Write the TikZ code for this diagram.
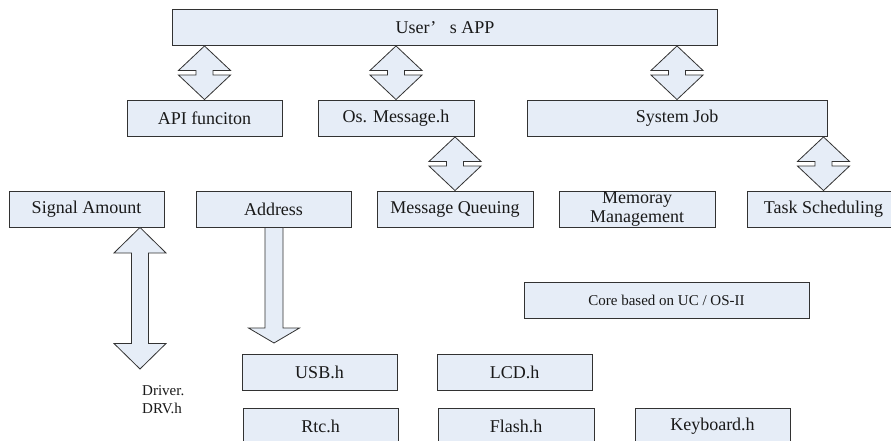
\documentclass[tikz,border=0pt]{standalone}
\usepackage{fontspec}
\setmainfont{Liberation Serif}
\usetikzlibrary{calc}

\definecolor{boxfill}{RGB}{230,237,247}
\definecolor{boxline}{RGB}{50,50,50}
\definecolor{ink}{RGB}{25,25,25}

\tikzset{
  module/.style={draw=boxline, fill=boxfill, line width=0.9pt, inner sep=0pt,
    font=\fontsize{18}{19.5}\selectfont, text=ink, align=center},
  smalltext/.style={font=\fontsize{15}{17.5}\selectfont},
  flow/.style={draw=boxline, fill=boxfill, line width=0.8pt, line join=miter},
}

% \modbox{name}{left}{right}{top}{bottom}{label}
\newcommand{\modbox}[7][]{%
  \node[module, #1, minimum width={(#4-#3)*1pt}, minimum height={(#6-#5)*1pt}]
    (#2) at ({(#3+#4)/2},{(#5+#6)/2}) {#7};}

% two-headed block arrow: top tip, bottom tip, head length (pt)
\newcommand{\twowayarrow}[3]{%
  \draw[flow] let \p1=#1, \p2=#2 in
    (\x1,\y1) -- (\x1+26pt,\y1-#3pt) -- (\x1+8.5pt,\y1-#3pt)
    -- (\x1+8.5pt,\y2+#3pt) -- (\x1+26pt,\y2+#3pt) -- (\x1,\y2)
    -- (\x1-26pt,\y2+#3pt) -- (\x1-8.5pt,\y2+#3pt)
    -- (\x1-8.5pt,\y1-#3pt) -- (\x1-26pt,\y1-#3pt) -- cycle;}

% one-headed block arrow pointing down: start of shaft, tip
\newcommand{\onewayarrow}[2]{%
  \draw[flow] let \p1=#1, \p2=#2 in
    (\x1-9pt,\y1) -- (\x1-9pt,\y2+15pt) -- (\x1-25.5pt,\y2+15pt) -- (\x1,\y2)
    -- (\x1+25.5pt,\y2+15pt) -- (\x1+9pt,\y2+15pt) -- (\x1+9pt,\y1) -- cycle;}

\begin{document}
\begin{tikzpicture}[x=1pt, y=-1pt]
  \clip (0,0) rectangle (891,441);
  \fill[white] (0,0) rectangle (891,441);

  % application layer
  \modbox{app}{172.5}{717.5}{9}{45.5}{User’\hspace{0.5em} s APP}

  % middle layer
  \modbox{api}{127}{282}{100}{136.5}{API funciton}
  \modbox{osm}{318}{474}{100}{136.5}{Os. Message.h}
  \modbox{sys}{527}{827}{100}{136.5}{System Job}

  % kernel services
  \modbox{sig}{9}{164}{191}{227}{Signal Amount}
  \modbox{addr}{196}{351}{191}{227}{Address}
  \modbox{mq}{377}{533}{191}{227}{Message Queuing}
  \modbox{mem}{559}{715}{191}{227}{Memoray\\Management}
  \modbox{task}{747}{900}{191}{227}{Task Scheduling}

  \modbox[smalltext]{core}{524}{809}{282}{318}{Core based on UC / OS-II}

  % drivers
  \modbox{usb}{242}{397}{354}{390}{USB.h}
  \modbox{lcd}{437}{592}{354}{390}{LCD.h}
  \modbox{rtc}{243}{398}{408}{444}{Rtc.h}
  \modbox{flash}{438}{594}{408}{444}{Flash.h}
  \modbox{kbd}{635}{790}{408}{444}{Keyboard.h}

  \node[smalltext, text=ink, align=left, anchor=north west, inner sep=0pt]
    (drv) at (142,385.5) {Driver.\\DRV.h};

  % free ends of the block arrows
  \coordinate (sigaxis) at (140,0);
  \coordinate (drvtip) at (140,369);
  \coordinate (addrtip) at (274,343);

  % block arrows
  \twowayarrow{(app.south -| api.north)}{(api.north)}{24.5}
  \twowayarrow{(app.south -| osm.north)}{(osm.north)}{24.5}
  \twowayarrow{(app.south -| sys.north)}{(sys.north)}{24.5}
  \twowayarrow{(osm.south -| mq.north)}{(mq.north)}{24.5}
  \twowayarrow{(sys.south -| task.north)}{(task.north)}{24.5}
  \twowayarrow{(sig.south -| sigaxis)}{(drvtip)}{25.5}
  \onewayarrow{(addr.south -| addrtip)}{(addrtip)}
\end{tikzpicture}
\end{document}
